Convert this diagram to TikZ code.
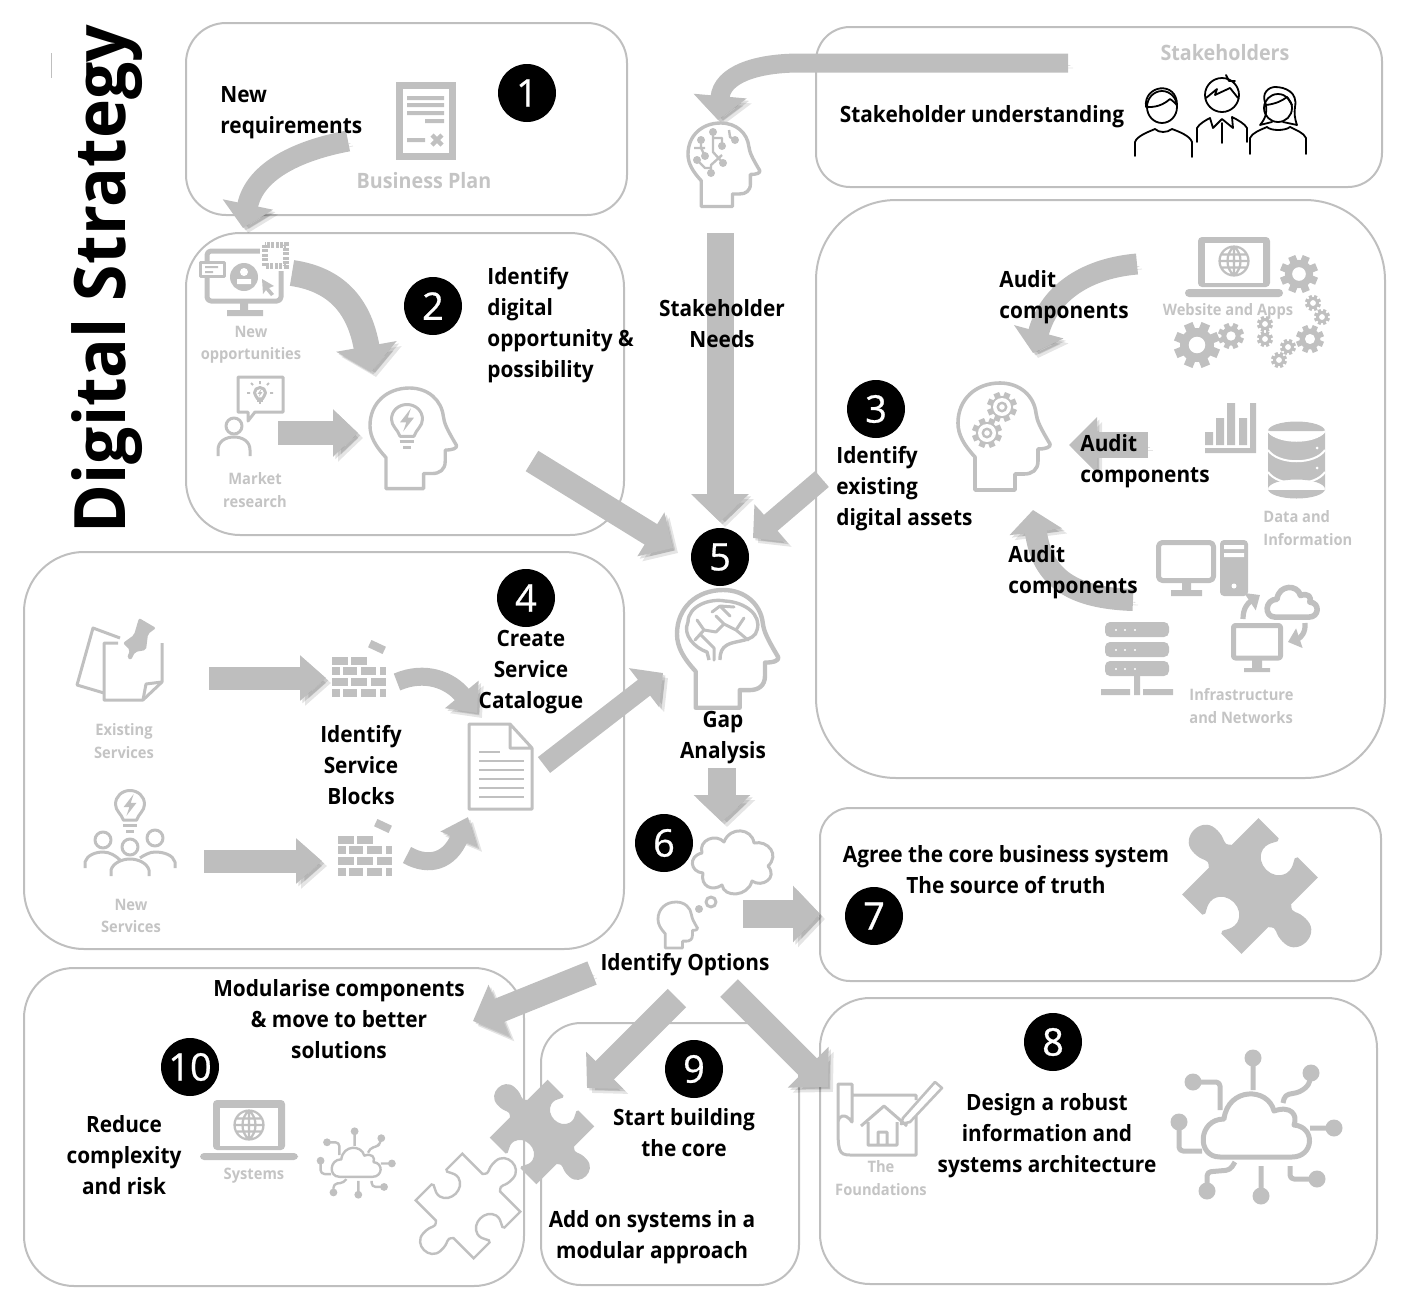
\documentclass[tikz,border=0pt]{standalone}
\usepackage{fontspec}
\setmainfont{Open Sans}[FakeStretch=0.93]
\newfontfamily\badgefont{Open Sans}[FakeBold=0.7]
\usetikzlibrary{arrows.meta}
\definecolor{boxgrey}{HTML}{BFBFBF}
\definecolor{arrowgrey}{HTML}{BEBEBE}
\definecolor{icongrey}{HTML}{C0C0C0}
\definecolor{faintgrey}{HTML}{C4C4C4}
\tikzset{
  panel/.style={draw=boxgrey,line width=1pt},
  flow/.style n args={3}{draw=arrowgrey,line width=#1,-{Triangle[length=#2,width=#3]},
    preaction={draw=black,opacity=.10,transform canvas={shift={(2.5pt,-2.5pt)}}},
    preaction={draw=black,opacity=.12,transform canvas={shift={(1.2pt,-1.2pt)}}}},
  miniflow/.style={draw=icongrey,line width=2.6pt,-{Triangle[length=6pt,width=10pt]}},
  caption/.style={font=\bfseries\fontsize{11.2}{15.5}\selectfont,align=center,text=black,inner sep=0pt},
  faint/.style={font=\bfseries\fontsize{7.9}{11.2}\selectfont,align=center,text=faintgrey,inner sep=0pt},
  faintbig/.style={font=\bfseries\fontsize{10.6}{14}\selectfont,text=faintgrey,inner sep=0pt},
  badge/.style={circle,fill=black,text=white,minimum size=29pt,inner sep=0pt,font=\badgefont\fontsize{19}{19}\selectfont},
  thin line/.style={draw=icongrey,line width=1.5pt,line join=round},
  thick line/.style={draw=icongrey,line width=2.5pt,line join=round},
  person line/.style={draw=black,line width=.9pt,line join=round,line cap=round},
  head/.pic={\draw[pic actions] (17,107) -- (17,74) .. controls (6,62) and (0,52) .. (0,40)
      .. controls (0,16) and (18,0) .. (42,0) .. controls (62,0) and (76,13) .. (78,30)
      .. controls (79,38) and (82,44) .. (92,61) .. controls (93,64) and (88,66) .. (80,66)
      -- (80,78) .. controls (80,87) and (74,91) .. (66,91) -- (57,91) -- (57,107) -- cycle;},
  gear/.pic={\fill[icongrey] (0,0) circle (.74);
    \foreach \a in {0,45,...,135} \fill[icongrey,rotate=\a+22.5] (-.2,-1) rectangle (.2,1);
    \fill[white] (0,0) circle (.36);},
  ringgear/.pic={\fill[icongrey] (0,0) circle (.74);
    \foreach \a in {0,45,...,135} \fill[icongrey,rotate=\a+22.5] (-.2,-1) rectangle (.2,1);
    \fill[white] (0,0) circle (.6); \draw[icongrey,line width=1.2pt] (0,0) circle (.28);},
  bulb/.pic={\draw[thin line] (-.45,1.05) .. controls (-.6,.6) and (-1,.4) .. (-1,-.05)
      .. controls (-1,-.6) and (-.55,-1) .. (0,-1) .. controls (.55,-1) and (1,-.6) .. (1,-.05)
      .. controls (1,.4) and (.6,.6) .. (.45,1.05) -- cycle;
    \fill[icongrey] (.25,-.75) -- (-.45,.15) -- (-.05,.15) -- (-.25,.75) -- (.45,-.15) -- (.05,-.15) -- cycle;
    \draw[thin line] (-.48,1.4) -- (.48,1.4) (-.25,1.8) -- (.25,1.8);},
  globe/.pic={\draw[thin line,line width=1.1pt] (0,0) circle (1) (0,-1) -- (0,1) (-1,0) -- (1,0)
      (-.9,-.45) -- (.9,-.45) (-.9,.45) -- (.9,.45) (0,-1) .. controls (-.6,-.5) and (-.6,.5) .. (0,1)
      (0,-1) .. controls (.6,-.5) and (.6,.5) .. (0,1);},
  cloud/.pic={\draw[pic actions] (-36,30) .. controls (-60,30) and (-58,-8) .. (-32,-8)
      .. controls (-28,-40) and (12,-40) .. (18,-16) .. controls (35,-22) and (42,-12) .. (38,-2)
      .. controls (60,0) and (58,30) .. (36,30) -- cycle;},
  netcloud/.pic={\draw[pic actions] (-36,30) .. controls (-60,30) and (-58,-8) .. (-32,-8)
      .. controls (-28,-40) and (12,-40) .. (18,-16) .. controls (35,-22) and (42,-12) .. (38,-2)
      .. controls (60,0) and (58,30) .. (36,30) -- cycle;
    \foreach \px/\py in {-3/-69,-63/-45,55/-54,78/1,-77/-5,-49/64,5/69,61/52}
      \fill[icongrey] (\px,\py) circle (8.5);
    \draw[pic actions,rounded corners=2pt] (-3,-69) -- (-3,-37) (-63,-45) -- (-36,-45) -- (-36,-17)
      (55,-54) -- (53,-42) -- (44,-35) -- (29,-32) -- (27,-24) (78,1) -- (54,1)
      (-77,-5) -- (-77,24) -- (-54,24) (-49,64) -- (-49,45) -- (-26,43) -- (-21,35)
      (5,69) -- (5,39) (61,52) -- (34,52) -- (34,39);},
  puzzle/.pic={\path[pic actions] (-1,-1) -- (-.32,-1)
      .. controls (-.2,-.95) and (-.45,-.85) .. (-.4,-.65) .. controls (-.3,-.35) and (.3,-.35) .. (.4,-.65)
      .. controls (.45,-.85) and (.2,-.95) .. (.32,-1) -- (1,-1) -- (1,-.3)
      .. controls (1.2,-.15) and (1.15,-.32) .. (1.55,-.3) .. controls (2,-.28) and (2,.28) .. (1.55,.3)
      .. controls (1.15,.32) and (1.2,.15) .. (1,.3) -- (1,1) -- (.32,1)
      .. controls (.2,.95) and (.45,.85) .. (.4,.65) .. controls (.3,.35) and (-.3,.35) .. (-.4,.65)
      .. controls (-.45,.85) and (-.2,.95) .. (-.32,1) -- (-1,1) -- (-1,.3)
      .. controls (-1.2,.15) and (-1.15,.32) .. (-1.55,.3) .. controls (-2,.28) and (-2,-.28) .. (-1.55,-.3)
      .. controls (-1.15,-.32) and (-1.2,-.15) .. (-1,-.3) -- cycle;},
  bricks/.pic={\foreach \bx/\by/\bw in {0/0/16,19/0/16,
        0/10/8,11/10/14,29/10/15,48/10/6,
        0/21/16,19/21/16,39/21/15,
        0/32/8,11/32/14,29/32/15,48/32/6}
      \fill[icongrey] (\bx,\by) rectangle ++(\bw,8);
    \fill[icongrey,rotate around={-25:(45,-10)}] (37,-14) rectangle (53,-6);},
}
\begin{document}
\begin{tikzpicture}[x=0.5pt,y=-0.5pt]
  \useasboundingbox (0,0) rectangle (1405,1302);

  % the panels
  \draw[panel,rounded corners=20pt] (186,23) rectangle (627,215);
  \draw[panel,rounded corners=27pt] (186,233) rectangle (624,535);
  \draw[panel,rounded corners=40pt] (816,200) rectangle (1385,778);
  \draw[panel,rounded corners=17pt] (816,27) rectangle (1382,187);
  \draw[panel,rounded corners=30pt] (24,552) rectangle (624,949);
  \draw[panel,rounded corners=15pt] (820,808) rectangle (1381,981);
  \draw[panel,rounded corners=25pt] (820,998) rectangle (1377,1284);
  \draw[panel,rounded corners=20pt] (541,1023) rectangle (799,1285);
  \draw[panel,rounded corners=25pt] (24,968) rectangle (524,1286);
  \draw[boxgrey,line width=.4pt] (51,53) -- (51,78);

  % the arrows
  \coordinate (planTail) at (348,141);
  \coordinate (planTip) at (243,228);
  \draw[flow={10.5pt}{12pt}{25pt}] (planTail) .. controls (300,150) and (255,170) .. (planTip);
  \coordinate (oppTail) at (292,273);
  \coordinate (oppTip) at (371,372);
  \draw[flow={13pt}{13pt}{30pt}] (oppTail) .. controls (340,280) and (360,310) .. (oppTip);
  \coordinate (marketTail) at (278,433);
  \coordinate (marketTip) at (358,433);
  \draw[flow={12pt}{12.5pt}{23pt}] (marketTail) -- (marketTip);
  \coordinate (ideaTail) at (532,461);
  \coordinate (gapIn) at (673,548);
  \draw[flow={12pt}{13pt}{25pt}] (ideaTail) -- (gapIn);
  \coordinate (needsTail) at (720,233);
  \coordinate (needsTip) at (720,522);
  \draw[flow={13.5pt}{14pt}{28pt}] (needsTail) -- (needsTip);
  \coordinate (assetTail) at (822,479);
  \coordinate (assetTip) at (753,538);
  \draw[flow={10.5pt}{11.5pt}{24pt}] (assetTail) -- (assetTip);
  \coordinate (stakeTail) at (1068,63);
  \coordinate (stakeBend) at (800,63);
  \coordinate (stakeTip) at (718,120);
  \draw[flow={9.5pt}{12pt}{26pt}] (stakeTail) -- (stakeBend) .. controls (755,63) and (722,75) .. (stakeTip);
  \coordinate (webTail) at (1137,264);
  \coordinate (webTip) at (1033,353);
  \draw[flow={10.5pt}{11pt}{25pt}] (webTail) .. controls (1090,268) and (1050,290) .. (webTip);
  \coordinate (dataTail) at (1148,445);
  \coordinate (dataTip) at (1069,445);
  \draw[flow={13pt}{14pt}{27pt}] (dataTail) -- (dataTip);
  \coordinate (netTail) at (1133,600);
  \coordinate (netTip) at (1033,510);
  \draw[flow={11pt}{11pt}{26pt}] (netTail) .. controls (1075,598) and (1042,580) .. (netTip);
  \coordinate (oldTail) at (209,678);
  \coordinate (oldTip) at (326,678);
  \draw[flow={11.5pt}{13pt}{22pt}] (oldTail) -- (oldTip);
  \coordinate (newTail) at (204,861);
  \coordinate (newTip) at (322,861);
  \draw[flow={11.5pt}{13pt}{22pt}] (newTail) -- (newTip);
  \coordinate (blockOneTail) at (397,682);
  \coordinate (blockOneTip) at (477,713);
  \draw[flow={9pt}{12pt}{21pt}] (blockOneTail) .. controls (425,670) and (450,680) .. (blockOneTip);
  \coordinate (blockTwoTail) at (407,855);
  \coordinate (blockTwoTip) at (468,817);
  \draw[flow={9pt}{12pt}{19pt}] (blockTwoTail) .. controls (430,868) and (450,860) .. (blockTwoTip);
  \coordinate (catalogueTail) at (544,765);
  \coordinate (catalogueTip) at (663,673);
  \draw[flow={10pt}{12pt}{24pt}] (catalogueTail) -- (catalogueTip);
  \coordinate (gapTail) at (722,768);
  \coordinate (gapTip) at (722,822);
  \draw[flow={14pt}{13.5pt}{27.5pt}] (gapTail) -- (gapTip);
  \coordinate (coreTail) at (743,914);
  \coordinate (coreTip) at (820,914);
  \draw[flow={14pt}{13.5pt}{27.5pt}] (coreTail) -- (coreTip);
  \coordinate (modTail) at (592,973);
  \coordinate (modTip) at (473,1021);
  \draw[flow={12.5pt}{14pt}{27pt}] (modTail) -- (modTip);
  \coordinate (buildTail) at (677,998);
  \coordinate (buildTip) at (587,1088);
  \draw[flow={13pt}{12.5pt}{25.5pt}] (buildTail) -- (buildTip);
  \coordinate (designTail) at (729,988);
  \coordinate (designTip) at (828,1087);
  \draw[flow={12.5pt}{14pt}{28pt}] (designTail) -- (designTip);

  % the business plan
  \draw[icongrey,line width=3.5pt] (399,85) rectangle (452,156);
  \fill[icongrey] (407,96) rectangle (444,100) (407,103) rectangle (444,107)
    (407,111) rectangle (444,115) (425,119) rectangle (444,123) (407,138) rectangle (425,142);
  \draw[icongrey,line width=2.2pt] (432,135) -- (442,145) (442,135) -- (432,145);

  % the stakeholders
  \draw[person line] (1162,107) circle [x radius=15,y radius=16];
  \draw[person line] (1146,107) .. controls (1143,85) and (1177,80) .. (1177,105)
    .. controls (1172,100) and (1170,99) .. (1170,99) .. controls (1160,108) and (1150,107) .. (1146,107);
  \draw[person line] (1135,156) -- (1135,142) .. controls (1137,136) and (1148,132) .. (1155,129)
    .. controls (1159,133) and (1167,133) .. (1172,129) .. controls (1180,132) and (1190,136) .. (1192,142) -- (1192,157);
  \draw[person line] (1222,95) circle (17);
  \draw[person line] (1206,98) -- (1217,89) -- (1215,95) -- (1230,88) -- (1238,98) (1226,75) -- (1229,81) -- (1235,81);
  \draw[person line] (1197,142) -- (1197,128) .. controls (1199,124) and (1206,120) .. (1210,118)
    -- (1213,128) -- (1222,119) -- (1233,128) -- (1232,117) .. controls (1238,120) and (1245,124) .. (1247,128) -- (1247,142)
    (1222,123) -- (1222,143);
  \draw[person line] (1278,108) circle (14);
  \draw[person line] (1260,125) .. controls (1266,118) and (1267,112) .. (1266,105) .. controls (1260,92) and (1270,87) .. (1275,87)
    .. controls (1285,87) and (1298,92) .. (1295,107) .. controls (1294,113) and (1295,120) .. (1297,125) -- (1283,122)
    (1260,125) -- (1272,122) (1266,105) .. controls (1275,104) and (1282,101) .. (1287,97) -- (1292,105);
  \draw[person line] (1250,154) -- (1250,138) .. controls (1252,133) and (1260,130) .. (1267,127)
    .. controls (1271,131) and (1285,131) .. (1290,127) .. controls (1296,130) and (1304,133) .. (1306,138) -- (1306,154);

  % the heads
  \pic[thin line,line width=1.7pt,scale=.78] at (688,123) {head};
  \draw[thin line,line width=1.2pt] (713,132) -- (713,152) -- (723,163) (713,138) -- (722,138) -- (722,146)
    (701,140) -- (701,148) -- (705,156) (694,148) -- (705,148) (697,160) -- (705,168) -- (711,168)
    (711,173) -- (711,165) -- (722,155) (729,130) -- (730,137) -- (735,140);
  \foreach \cx/\cy in {713/132,723/163,722/146,701/140,705/156,697/160,711/173,735/140}
    \fill[icongrey] (\cx,\cy) circle (4);
  \pic[thin line,line width=1.7pt,scale=.94] at (370,388) {head};
  \pic[scale=15.5] at (407,420) {bulb};
  \pic[thin line,line width=1.8pt] at (958,383) {head};
  \pic[scale=15] at (1002,407) {ringgear};
  \pic[scale=15] at (987,433) {ringgear};
  \pic[thin line,line width=2.2pt,scale=1.1] at (677,590) {head};
  \draw[thin line,line width=1.7pt] (709,660) -- (707,652) .. controls (695,648) and (682,635) .. (688,622)
    .. controls (688,606) and (710,598) .. (725,601) .. controls (745,602) and (762,615) .. (757,630)
    .. controls (755,642) and (735,640) .. (727,645) .. controls (722,648) and (720,652) .. (720,660);
  \draw[thin line,line width=1.5pt,line cap=round] (714,660) -- (714,648) -- (700,634) (697,620) -- (704,630) -- (695,640)
    (704,630) -- (716,632) -- (724,624) -- (716,616) (724,624) -- (736,630) -- (748,640)
    (736,630) -- (744,618) (712,612) -- (720,606) -- (730,616) (720,606) -- (734,607);

  \pic[thin line,line width=1.4pt,scale=.43] at (658,902) {head};
  \draw[thin line] (703,873) .. controls (690,872) and (688,856) .. (702,853) .. controls (698,840) and (716,833) .. (724,842)
    .. controls (730,826) and (752,828) .. (754,843) .. controls (768,840) and (780,855) .. (768,866)
    .. controls (778,878) and (762,888) .. (752,881) .. controls (748,897) and (724,898) .. (722,885)
    .. controls (712,892) and (700,886) .. (703,873) -- cycle;
  \draw[thin line] (711,902) circle (5);
  \fill[icongrey] (699,909) circle (4);

  % new opportunities and market research
  \draw[thick line,rounded corners=2pt] (207,251) rectangle (281,301);
  \fill[icongrey] (240,303) rectangle (248,312) (227,310) rectangle (263,316);
  \draw[thin line,fill=white] (200,262) rectangle (224,276);
  \fill[icongrey] (205,266) rectangle (218,268) (205,271) rectangle (213,273);
  \fill[white] (260,240) rectangle (291,271);
  \draw[icongrey,line width=2.6pt,dash pattern=on 1.5pt off .7pt] (265,245) rectangle (286,266);
  \fill[icongrey] (244,277) circle (14);
  \fill[white] (244,272) circle (4) (237,279) rectangle (251,284);
  \fill[icongrey] (262,279) -- (274,286) -- (269,288) -- (274,294) -- (271,296) -- (266,290) -- (263,294) -- cycle;
  \draw[thin line] (234,426) circle (8);
  \draw[thin line] (218,456) -- (218,450) .. controls (218,441) and (226,437) .. (234,437) .. controls (242,437) and (250,441) .. (250,450) -- (250,456);
  \draw[thin line] (238,377) -- (283,377) -- (283,412) -- (255,412) -- (248,421) -- (248,412) -- (238,412) -- cycle;
  \pic[scale=5.5] at (260,393) {bulb};
  \draw[icongrey,line width=.9pt] (250,393) -- (247,393) (273,393) -- (270,393) (253,385) -- (251,383) (267,385) -- (269,383) (260,384) -- (260,381);

  % website and apps
  \fill[icongrey,rounded corners=2pt] (1198,237) rectangle (1270,287);
  \fill[white] (1205,243) rectangle (1263,283);
  \fill[icongrey,rounded corners=2pt] (1185,289) rectangle (1283,297);
  \pic[scale=14.5] at (1234,261) {globe};
  \foreach \gx/\gy/\gr in {1299/274/19,1313/303/8,1322/317/8,1265/324/8,1265/339/8,1197/345/23,1231/336/13,1310/339/14,1288/347/8,1279/360/8}
    \pic[scale=\gr] at (\gx,\gy) {gear};

  % data and information
  \fill[icongrey] (1205,432) rectangle (1213,445) (1216,418) rectangle (1224,445) (1227,403) rectangle (1235,445)
    (1239,418) rectangle (1247,445) (1250,403) rectangle (1256,453) (1205,448) rectangle (1256,453);
  \fill[icongrey] (1268,431) rectangle (1325,490) (1296.5,431) ellipse [x radius=28.5,y radius=9.5]
    (1296.5,489) ellipse [x radius=28.5,y radius=9.5];
  \draw[white,line width=1pt] (1268,431) .. controls (1278,444) and (1315,444) .. (1325,431)
    (1268,450) .. controls (1278,465) and (1315,465) .. (1325,450)
    (1268,472) .. controls (1278,487) and (1315,487) .. (1325,472);
  \fill[white] (1317,448) circle (1.5) (1317,468) circle (1.5) (1317,488) circle (1.5);

  % infrastructure and networks
  \draw[thick line,rounded corners=2pt] (1158.5,542.5) rectangle (1213.5,580.5);
  \fill[icongrey] (1182,583) rectangle (1191,592) (1171,590) rectangle (1202,596);
  \fill[icongrey,rounded corners=2pt] (1220,540) rectangle (1248,596);
  \fill[white] (1224,545) rectangle (1244,549) (1224,553) rectangle (1244,557) (1234,586) circle (2.5);
  \foreach \sy in {622,642,661} {
    \fill[icongrey,rounded corners=2.5pt] (1105,\sy) rectangle (1169,\sy+15);
    \fill[white] (1116,\sy+8) circle (1.2) (1125,\sy+8) circle (1.2) (1135,\sy+8) circle (1.2);
  }
  \fill[icongrey] (1134,676) rectangle (1140,689) (1101,689) rectangle (1130,695) (1134,689) rectangle (1140,695) (1143,689) rectangle (1173,695);
  \pic[thick line,line width=2.8pt,scale=.47] at (1292,603) {cloud};
  \draw[thick line,rounded corners=1pt] (1233.5,625.5) rectangle (1280.5,658);
  \fill[icongrey] (1252,660) rectangle (1262,668) (1244,668) rectangle (1270,672);
  \coordinate (cloudUpTail) at (1243,619);
  \coordinate (cloudUpTip) at (1260,595);
  \draw[miniflow] (cloudUpTail) .. controls (1243,608) and (1248,603) .. (cloudUpTip);
  \coordinate (cloudDownTail) at (1305,623);
  \coordinate (cloudDownTip) at (1288,642);
  \draw[miniflow] (cloudDownTail) .. controls (1306,633) and (1300,638) .. (cloudDownTip);

  % existing services and new services
  \draw[thin line] (120,638) -- (93,628) -- (77,685) -- (104,693);
  \draw[thin line] (118,643) -- (104,643) -- (104,700) -- (143,700) -- (162,682) -- (162,643);
  \draw[thin line] (143,700) -- (146,684) -- (162,682);
  \fill[icongrey,rounded corners=1pt] (139,618) -- (156,628) -- (148,634) -- (146,650) -- (135,652) -- (131,660) -- (127,658) -- (130,650) -- (123,643) -- (134,635) -- cycle;
  \pic[scale=14.5] at (130,805) {bulb};
  \draw[thin line] (103,840) circle (8) (155,838) circle (8) (130,847) circle (8);
  \draw[thin line] (85,868) -- (85,862) .. controls (87,855) and (96,852) .. (103,852) .. controls (110,852) and (116,856) .. (120,860);
  \draw[thin line] (175,868) -- (175,862) .. controls (173,855) and (164,852) .. (155,852) .. controls (150,852) and (144,855) .. (140,858);
  \draw[thin line] (111,876) -- (111,870) .. controls (113,863) and (122,859) .. (130,859) .. controls (138,859) and (147,863) .. (149,870) -- (149,876);
  \pic at (332,657) {bricks};
  \pic at (338,836) {bricks};

  % the catalogue page
  \draw[thin line] (469,724) -- (510,724) -- (532,748) -- (532,809) -- (469,809) -- cycle (510,724) -- (510,748) -- (532,748);
  \fill[icongrey] (479,751) rectangle (500,753);
  \foreach \ly in {760,769,778,787,796}
    \fill[icongrey] (479,\ly) rectangle (524,\ly+2);

  % the foundations
  \draw[thin line] (838,1122) -- (838,1084) -- (852,1084) -- (852,1122) .. controls (845,1112) and (838,1116) .. (838,1122) .. controls (838,1150) and (838,1155) .. (850,1155) -- (916,1155) -- (916,1116)
    (852,1095) -- (916,1095) -- (916,1100);
  \draw[thin line] (861,1126) -- (884,1106) -- (907,1126) (868,1122) -- (868,1145) -- (897,1145) -- (897,1122) (878,1145) -- (878,1132) -- (887,1132) -- (887,1145);
  \draw[thin line,line width=1.3pt] (903,1118) -- (935,1082) -- (942,1088) -- (910,1122) -- (901,1124) -- cycle;

  % the clouds and puzzle pieces
  \pic[thick line] at (1256,1127) {netcloud};
  \pic[thin line,line width=1.2pt,scale=.46] at (356,1163) {netcloud};
  \pic[fill=icongrey,rotate=-45,xscale=42,yscale=54] at (1250,886) {puzzle};
  \pic[fill=icongrey,rotate=-45,xscale=33,yscale=41] at (542,1132) {puzzle};
  \pic[draw=icongrey,line width=1.2pt,fill=white,rotate=45,xscale=33,yscale=41] at (468,1206) {puzzle};

  % the systems laptop
  \fill[icongrey,rounded corners=2pt] (213,1100) rectangle (285,1150);
  \fill[white] (220,1108) rectangle (278,1146);
  \fill[icongrey,rounded corners=2pt] (200,1153) rectangle (298,1160);
  \pic[scale=14.5] at (249,1125) {globe};

  % the texts
  \node[caption,align=left,anchor=west] (newReq) at (220,113) {New\\requirements};
  \node[faintbig] (planText) at (424,181) {Business Plan};
  \node[faintbig] (stakeText) at (1225,53) {Stakeholders};
  \node[caption] (understanding) at (982,117) {Stakeholder understanding};
  \node[caption,align=left,anchor=west] (identifyDigital) at (487,325) {Identify\\digital\\opportunity \&\\possibility};
  \node[faint] (oppText) at (251,345) {New\\opportunities};
  \node[faint] (marketText) at (255,490) {Market\\research};
  \node[caption] (needsText) at (722,324) {Stakeholder\\Needs};
  \node[caption,align=left,anchor=west] (auditOne) at (999,297) {Audit\\components};
  \node[caption,align=left,anchor=west] (auditTwo) at (1080,461) {Audit\\components};
  \node[caption,align=left,anchor=west] (auditThree) at (1008,572) {Audit\\components};
  \node[faint] (webText) at (1228,311) {Website and Apps};
  \node[faint,align=left,anchor=west] (dataText) at (1263,528) {Data and\\Information};
  \node[faint,align=left,anchor=west] (netText) at (1189,706) {Infrastructure\\and Networks};
  \node[caption,align=left,anchor=west] (existing) at (836,489) {Identify\\existing\\digital assets};
  \node[caption] (catalogue) at (531,672) {Create\\Service\\Catalogue};
  \node[caption] (blocks) at (361,765) {Identify\\Service\\Blocks};
  \node[faint] (oldText) at (124,741) {Existing\\Services};
  \node[faint] (newText) at (131,916) {New\\Services};
  \node[caption] (gapText) at (723,738) {Gap\\Analysis};
  \node[caption] (optionsText) at (685,965) {Identify Options};
  \node[caption] (coreText) at (1006,870) {Agree the core business system\\The source of truth};
  \node[caption] (modText) at (339,1019) {Modularise components\\\& move to better\\solutions};
  \node[caption] (buildText) at (684,1133) {Start building\\the core};
  \node[caption] (addText) at (652,1237) {Add on systems in a\\modular approach};
  \node[caption] (designText) at (1047,1136) {Design a robust\\information and\\systems architecture};
  \node[faint] (foundText) at (881,1178) {The\\Foundations};
  \node[caption] (reduceText) at (124,1155) {Reduce\\complexity\\and risk};
  \node[faint] (sysText) at (254,1176) {Systems};
  \node[font=\bfseries\fontsize{35.5}{36}\selectfont,rotate=90,anchor=base,inner sep=0pt] (title) at (125,279) {Digital Strategy};

  % the numbers
  \node[badge] (one) at (527,93) {1};
  \node[badge] (two) at (433,306) {2};
  \node[badge] (three) at (876,409) {3};
  \node[badge] (four) at (526,598) {4};
  \node[badge] (five) at (720,557) {5};
  \node[badge] (six) at (664,843) {6};
  \node[badge] (seven) at (874,916) {7};
  \node[badge] (eight) at (1053,1042) {8};
  \node[badge] (nine) at (694,1069) {9};
  \node[badge] (ten) at (190,1067) {10};
\end{tikzpicture}
\end{document}
